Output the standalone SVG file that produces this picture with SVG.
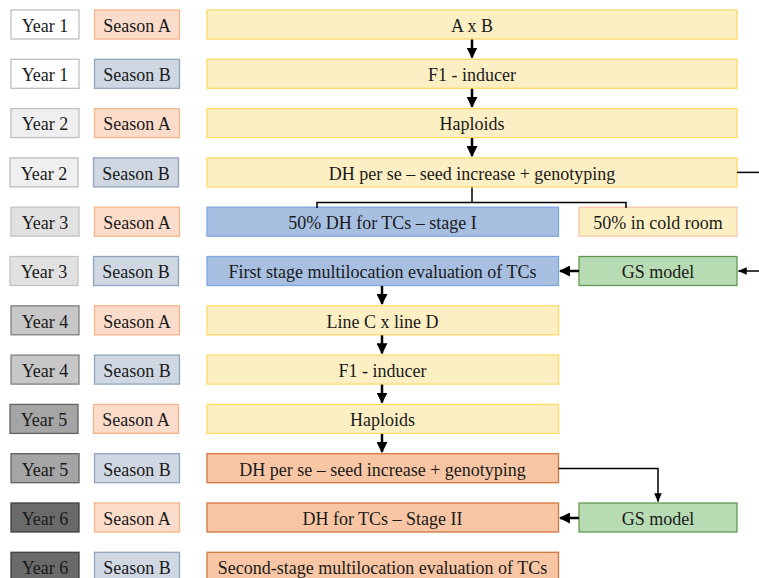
<svg xmlns="http://www.w3.org/2000/svg" width="759" height="578" viewBox="0 0 759 578">
<style>
text{font-family:"Liberation Serif","Times New Roman",serif;font-size:18px;fill:#1a1a1a;text-anchor:middle}
rect{stroke-width:1.3}
.y1{fill:#ffffff;stroke:#bfbfbf}
.y2{fill:#efefef;stroke:#bfbfbf}
.y3{fill:#e1e1e1;stroke:#c3c3c3}
.y4{fill:#c7c7c7;stroke:#808080}
.y5{fill:#a5a5a5;stroke:#606060}
.y6{fill:#6a6a6a;stroke:#404040}
.sa{fill:#fbdccb;stroke:#f4b48a}
.sb{fill:#cfd8e2;stroke:#8fa4be}
.ye{fill:#fdefc4;stroke:#ffd966}
.bl{fill:#a7bfe1;stroke:#7ea6e0}
.cr{fill:#fdefc4;stroke:#f8c6a8}
.gs{fill:#b7dbb3;stroke:#5f9a4f}
.or{fill:#f8c6a4;stroke:#d4763d}
.ln{fill:none;stroke:#000;stroke-width:2.5}
.tn{fill:none;stroke:#000;stroke-width:1.5}
</style>
<defs>
<marker id="ah" markerWidth="4.4" markerHeight="4.4" refX="4" refY="2.2" orient="auto" markerUnits="strokeWidth">
<path d="M0,0 L4.4,2.2 L0,4.4 Z" fill="#000"/>
</marker>
<marker id="as" markerWidth="6" markerHeight="6" refX="5.5" refY="3" orient="auto" markerUnits="strokeWidth">
<path d="M0,0.5 L6,3 L0,5.5 Z" fill="#000"/>
</marker>
</defs>

<g id="years">
<g id="year1a"><rect class="y1" x="11" y="10" width="68" height="29"/><text x="45" y="31.8">Year 1</text></g>
<g id="year1b"><rect class="y1" x="11" y="59.3" width="68" height="29"/><text x="45" y="81.1">Year 1</text></g>
<g id="year2a"><rect class="y2" x="11" y="108.6" width="68" height="29"/><text x="45" y="130.4">Year 2</text></g>
<g id="year2b"><rect class="y2" x="10" y="157.9" width="68" height="29"/><text x="44" y="179.7">Year 2</text></g>
<g id="year3a"><rect class="y3" x="11" y="207.2" width="68" height="29"/><text x="45" y="229">Year 3</text></g>
<g id="year3b"><rect class="y3" x="10" y="256.5" width="68" height="29"/><text x="44" y="278.3">Year 3</text></g>
<g id="year4a"><rect class="y4" x="11" y="305.8" width="68" height="29"/><text x="45" y="327.6">Year 4</text></g>
<g id="year4b"><rect class="y4" x="11" y="355.1" width="68" height="29"/><text x="45" y="376.9">Year 4</text></g>
<g id="year5a"><rect class="y5" x="10" y="404.4" width="68" height="29"/><text x="44" y="426.2">Year 5</text></g>
<g id="year5b"><rect class="y5" x="11" y="453.7" width="68" height="29"/><text x="45" y="475.5">Year 5</text></g>
<g id="year6a"><rect class="y6" x="11" y="503" width="68" height="29"/><text x="45" y="524.8">Year 6</text></g>
<g id="year6b"><rect class="y6" x="11" y="552.3" width="68" height="29"/><text x="45" y="574.1">Year 6</text></g>
</g>

<g id="seasons">
<g id="season1a"><rect class="sa" x="94.5" y="10" width="85" height="29"/><text x="137" y="31.8">Season A</text></g>
<g id="season1b"><rect class="sb" x="94.5" y="59.3" width="85" height="29"/><text x="137" y="81.1">Season B</text></g>
<g id="season2a"><rect class="sa" x="94.5" y="108.6" width="85" height="29"/><text x="137" y="130.4">Season A</text></g>
<g id="season2b"><rect class="sb" x="93.5" y="157.9" width="85" height="29"/><text x="136" y="179.7">Season B</text></g>
<g id="season3a"><rect class="sa" x="94.5" y="207.2" width="85" height="29"/><text x="137" y="229">Season A</text></g>
<g id="season3b"><rect class="sb" x="93.5" y="256.5" width="85" height="29"/><text x="136" y="278.3">Season B</text></g>
<g id="season4a"><rect class="sa" x="94.5" y="305.8" width="85" height="29"/><text x="137" y="327.6">Season A</text></g>
<g id="season4b"><rect class="sb" x="94.5" y="355.1" width="85" height="29"/><text x="137" y="376.9">Season B</text></g>
<g id="season5a"><rect class="sa" x="93.5" y="404.4" width="85" height="29"/><text x="136" y="426.2">Season A</text></g>
<g id="season5b"><rect class="sb" x="94.5" y="453.7" width="85" height="29"/><text x="137" y="475.5">Season B</text></g>
<g id="season6a"><rect class="sa" x="94.5" y="503" width="85" height="29"/><text x="137" y="524.8">Season A</text></g>
<g id="season6b"><rect class="sb" x="94.5" y="552.3" width="85" height="29"/><text x="137" y="574.1">Season B</text></g>
</g>

<g id="n-axb"><rect class="ye" x="207" y="10" width="530" height="29"/><text x="472" y="31.8">A x B</text></g>
<g id="n-f1"><rect class="ye" x="207" y="59.3" width="530" height="29"/><text x="472" y="81.1">F1 - inducer</text></g>
<g id="n-hap"><rect class="ye" x="207" y="108.6" width="530" height="29"/><text x="472" y="130.4">Haploids</text></g>
<g id="n-dh"><rect class="ye" x="207" y="157.9" width="530" height="29"/><text x="472" y="179.7">DH per se – seed increase + genotyping</text></g>
<g id="n-tc1"><rect class="bl" x="207" y="207.2" width="351.5" height="29"/><text x="382.5" y="229">50% DH for TCs – stage I</text></g>
<g id="n-cold"><rect class="cr" x="579" y="207.2" width="158" height="29"/><text x="658" y="229">50% in cold room</text></g>
<g id="n-eval1"><rect class="bl" x="207" y="256.5" width="351.5" height="29"/><text x="382.5" y="278.3">First stage multilocation evaluation of TCs</text></g>
<g id="n-gs1"><rect class="gs" x="579" y="256.5" width="158" height="29"/><text x="658" y="278.3">GS model</text></g>
<g id="n-cd"><rect class="ye" x="207" y="305.8" width="351.5" height="29"/><text x="382.5" y="327.6">Line C x line D</text></g>
<g id="n-f1b"><rect class="ye" x="207" y="355.1" width="351.5" height="29"/><text x="382.5" y="376.9">F1 - inducer</text></g>
<g id="n-hap2"><rect class="ye" x="207" y="404.4" width="351.5" height="29"/><text x="382.5" y="426.2">Haploids</text></g>
<g id="n-dh2"><rect class="or" x="207" y="453.7" width="351.5" height="29"/><text x="382.5" y="475.5">DH per se – seed increase + genotyping</text></g>
<g id="n-tc2"><rect class="or" x="207" y="503" width="351.5" height="29"/><text x="382.5" y="524.8">DH for TCs – Stage II</text></g>
<g id="n-gs2"><rect class="gs" x="579" y="503" width="158" height="29"/><text x="658" y="524.8">GS model</text></g>
<g id="n-eval2"><rect class="or" x="207" y="552.3" width="351.5" height="29"/><text x="382.5" y="574.1">Second-stage multilocation evaluation of TCs</text></g>

<g id="connectors">
<line class="ln" x1="472" y1="39.5" x2="472" y2="57.5" marker-end="url(#ah)"/>
<line class="ln" x1="472" y1="88.8" x2="472" y2="106.8" marker-end="url(#ah)"/>
<line class="ln" x1="472" y1="138.1" x2="472" y2="156.1" marker-end="url(#ah)"/>
<path class="tn" d="M472,187.4 V202.5 M317,208 V202.5 H626 V208"/>
<line class="tn" x1="737" y1="172.4" x2="759" y2="172.4"/>
<line class="tn" x1="759" y1="271" x2="738.5" y2="271" marker-end="url(#as)"/>
<line class="ln" x1="579" y1="271" x2="560" y2="271" marker-end="url(#ah)"/>
<line class="ln" x1="382" y1="286" x2="382" y2="304" marker-end="url(#ah)"/>
<line class="ln" x1="382" y1="335.3" x2="382" y2="353.3" marker-end="url(#ah)"/>
<line class="ln" x1="382" y1="384.6" x2="382" y2="402.6" marker-end="url(#ah)"/>
<line class="ln" x1="382" y1="433.9" x2="382" y2="451.9" marker-end="url(#ah)"/>
<path class="tn" d="M558.5,468.5 H658 V501.5" marker-end="url(#as)"/>
<line class="ln" x1="579" y1="518" x2="560" y2="518" marker-end="url(#ah)"/>
</g>
</svg>
